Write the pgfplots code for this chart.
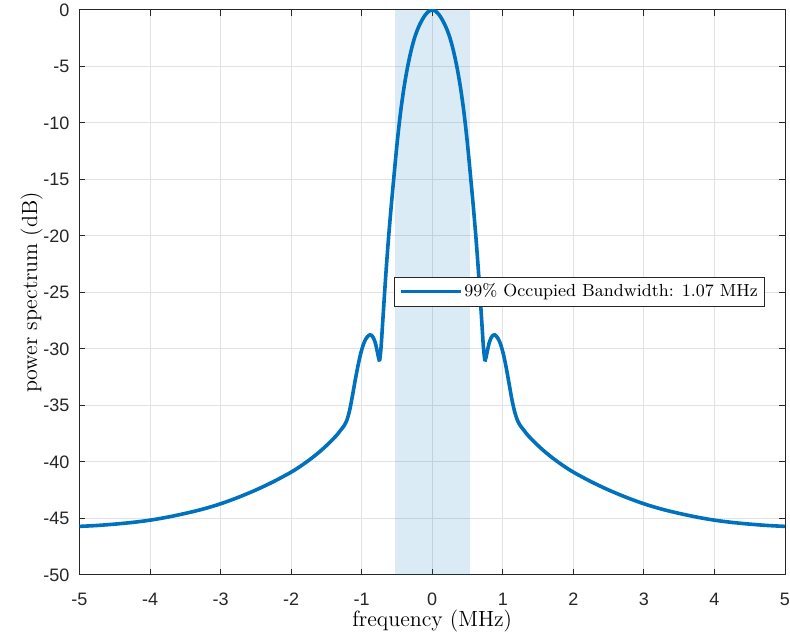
\documentclass[border=0pt]{standalone}
\usepackage{fontspec}
\usepackage{pgfplots}
\pgfplotsset{compat=1.18}
\newfontfamily\arial{Liberation Sans}
\definecolor{mblue}{HTML}{0072BD}
\definecolor{axgray}{HTML}{262626}
\definecolor{gridgray}{HTML}{E2E2E2}
\begin{document}
\begin{tikzpicture}
\begin{axis}[
  scale only axis,
  width=352.75pt, height=282.5pt,
  xmin=-5, xmax=5, ymin=-50, ymax=0,
  xtick={-5,-4,...,5}, ytick={-50,-45,...,0},
  /pgf/number format/assume math mode=true,
  tick label style={font=\arial\fontsize{9}{10}\selectfont, text=axgray},
  xticklabel style={anchor=base, yshift=-15.5pt},
  yticklabel style={xshift=-1.5pt},
  tick align=inside,
  major tick length=3pt,
  every tick/.style={axgray, line width=0.5pt},
  axis line style={axgray, line width=0.5pt},
  grid=major,
  major grid style={gridgray, line width=0.5pt},
  xlabel={frequency (MHz)},
  ylabel={power spectrum (dB)},
  label style={font=\fontsize{11}{13}\selectfont},
  xlabel style={at={(axis description cs:0.5,-0.092)}, anchor=base},
  ylabel style={at={(axis description cs:-0.0602,0.5)}, anchor=base},
  legend style={at={(axis description cs:0.9717,0.5016)}, anchor=east,
    font=\fontsize{8.75}{10}\selectfont, draw=axgray, line width=0.5pt, fill=white,
    inner xsep=2.5pt, inner ysep=1.6pt, nodes={inner xsep=0.8pt, inner ysep=1.6pt}},
  legend image code/.code={\draw[#1] (0pt,0pt) -- (30pt,0pt);},
]
\addplot[draw=none, fill=mblue, fill opacity=0.14, forget plot]
  coordinates {(-0.53,-50) (-0.53,0) (0.54,0) (0.54,-50)} -- cycle;
\addplot[mblue, line width=1.8pt, smooth, tension=0.5] coordinates {
(-5.0,-45.7) (-4.75,-45.62) (-4.5,-45.5) (-4.25,-45.35) (-4.0,-45.15)
(-3.75,-44.88) (-3.5,-44.55) (-3.25,-44.17) (-3.0,-43.7) (-2.75,-43.13)
(-2.5,-42.48) (-2.25,-41.74) (-2.0,-40.9) (-1.85,-40.3) (-1.7,-39.62)
(-1.57,-38.95) (-1.45,-38.25) (-1.35,-37.6) (-1.3,-37.2) (-1.25,-36.8)
(-1.21,-36.3) (-1.17,-35.4) (-1.13,-34.1) (-1.09,-32.7) (-1.05,-31.4)
(-1.01,-30.3) (-0.97,-29.5) (-0.93,-29.0) (-0.885,-28.75) (-0.845,-28.9)
(-0.81,-29.4) (-0.78,-30.2) (-0.76,-30.8) (-0.745,-30.95) (-0.725,-29.8)
(-0.70,-27.4) (-0.675,-25.0) (-0.65,-22.7) (-0.62,-20.2) (-0.585,-17.6)
(-0.55,-15.2) (-0.50,-11.9) (-0.45,-9.1) (-0.40,-6.85) (-0.35,-5.05)
(-0.30,-3.6) (-0.25,-2.45) (-0.20,-1.6) (-0.15,-0.95) (-0.10,-0.45)
(-0.05,-0.12) (0,0)
(0.05,-0.12) (0.10,-0.45) (0.15,-0.95) (0.20,-1.6) (0.25,-2.45) (0.30,-3.6)
(0.35,-5.05) (0.40,-6.85) (0.45,-9.1) (0.50,-11.9) (0.55,-15.2) (0.585,-17.6)
(0.62,-20.2) (0.65,-22.7) (0.675,-25.0) (0.70,-27.4) (0.725,-29.8)
(0.745,-30.95) (0.76,-30.8) (0.78,-30.2) (0.81,-29.4) (0.845,-28.9)
(0.885,-28.75) (0.93,-29.05) (0.97,-29.6) (1.01,-30.5) (1.05,-31.7)
(1.09,-33.1) (1.13,-34.5) (1.17,-35.6) (1.21,-36.35) (1.25,-36.8)
(1.3,-37.2) (1.35,-37.6) (1.45,-38.25) (1.57,-38.95) (1.7,-39.62)
(1.85,-40.3) (2.0,-40.9) (2.25,-41.74) (2.5,-42.48) (2.75,-43.13)
(3.0,-43.7) (3.25,-44.17) (3.5,-44.55) (3.75,-44.88) (4.0,-45.15)
(4.25,-45.35) (4.5,-45.5) (4.75,-45.62) (5.0,-45.7)
};
\addlegendentry{99\% Occupied Bandwidth: 1.07 MHz}
\end{axis}
\pgfresetboundingbox
\useasboundingbox ([shift={(-39.75pt,-33.5pt)}]current axis.south west) rectangle ([shift={(2.5pt,5pt)}]current axis.north east);
\end{tikzpicture}
\end{document}
